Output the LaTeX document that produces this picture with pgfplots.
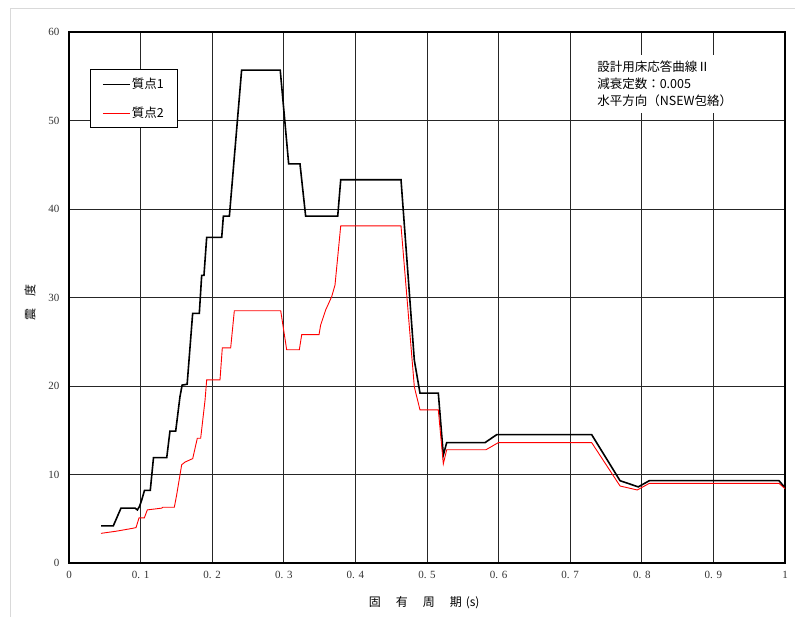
\documentclass[border=0pt]{standalone}
\usepackage{pgfplots}
\pgfplotsset{compat=1.18}
\usepackage{fontspec}
\setmainfont{Liberation Serif}
\newfontfamily\jp{Noto Sans CJK JP}

\pgfplotstableread{
x y
0.0447 4.2
0.0619 4.2
0.0726 6.2
0.0922 6.2
0.0955 6.0
0.0985 6.4
0.1015 7.1
0.1054 8.2
0.1135 8.2
0.1180 11.9
0.1365 11.9
0.1410 14.9
0.1490 14.9
0.1550 18.8
0.1580 20.1
0.1650 20.2
0.1727 28.2
0.1820 28.2
0.1853 32.5
0.1885 32.5
0.1923 36.8
0.2133 36.8
0.2156 39.2
0.2240 39.2
0.2411 55.7
0.2950 55.7
0.3068 45.1
0.3226 45.1
0.3305 39.2
0.3753 39.2
0.3795 43.3
0.4637 43.3
0.4823 22.9
0.4902 19.2
0.5158 19.2
0.5228 12.2
0.5275 13.6
0.5810 13.6
0.5973 14.5
0.7300 14.5
0.7696 9.3
0.7951 8.6
0.8105 9.3
0.9916 9.3
1.0000 8.5
}\massone

\pgfplotstableread{
x y
0.0447 3.35
0.0666 3.6
0.0876 3.9
0.0936 4.0
0.0978 5.1
0.1052 5.1
0.1094 6.0
0.1295 6.2
0.1309 6.3
0.1471 6.3
0.1504 7.7
0.1574 11.1
0.1620 11.4
0.1728 11.8
0.1792 14.1
0.1839 14.1
0.1900 18.4
0.1923 20.7
0.2109 20.7
0.2141 24.3
0.2258 24.3
0.2309 28.5
0.2957 28.5
0.3040 24.1
0.3217 24.1
0.3250 25.8
0.3492 25.8
0.3515 26.9
0.3585 28.6
0.3669 30.1
0.3715 31.4
0.3795 38.1
0.4637 38.1
0.4823 19.9
0.4902 17.3
0.5158 17.3
0.5228 11.2
0.5275 12.8
0.5824 12.8
0.5996 13.6
0.7300 13.6
0.7696 8.7
0.7937 8.25
0.8105 9.0
0.9916 9.0
1.0000 8.4
}\masstwo

\begin{document}
\begin{tikzpicture}
\useasboundingbox (0,0) rectangle (795bp,617bp);
\draw[black!15] (10bp,0) -- (10bp,609bp) -- (795bp,609bp);
\begin{axis}[
  at={(69bp,54bp)}, anchor=south west,
  scale only axis, width=716bp, height=531bp,
  xmin=0, xmax=1, ymin=0, ymax=60,
  xtick={0,0.1,0.2,0.3,0.4,0.5,0.6,0.7,0.8,0.9,1},
  xticklabels={0,0. 1,0. 2,0. 3,0. 4,0. 5,0. 6,0. 7,0. 8,0. 9,1},
  ytick={0,10,20,30,40,50,60},
  yticklabels={0,10,20,30,40,50,60},
  major tick length=0pt,
  tick label style={font=\fontsize{11bp}{12bp}\selectfont, text=black!80},
  xticklabel style={yshift=-5bp},
  yticklabel style={xshift=-6bp},
  grid=major,
  major grid style={black!85, line width=0.9bp},
  axis line style={black, line width=1.4bp},
  xlabel={\jp 固\hspace{15bp}有\hspace{15bp}周\hspace{15bp}期\hspace{4bp}(s)},
  ylabel={\jp 震\hspace{1em}度},
  xlabel style={at={(axis description cs:0.496,-0.075)}, anchor=center, font=\fontsize{12bp}{13bp}\selectfont},
  ylabel style={at={(axis description cs:-0.0545,0.49)}, anchor=center, font=\fontsize{12bp}{13bp}\selectfont},
  legend style={at={(rel axis cs:0.0293,0.930)}, anchor=north west, draw=black, line width=0.8bp,
    fill=white, font=\jp\fontsize{12.5bp}{13bp}\selectfont, row sep=14bp,
    inner xsep=12bp, inner ysep=7bp, nodes={inner sep=1.5bp}},
  legend cell align=left,
  legend image code/.code={\draw[#1, line width=0.9bp] (0bp,0bp) -- (27bp,0bp);},
]
\addplot[black, line width=1.6bp] table {\massone};
\addlegendentry{質点1\hspace{10bp}}
\addplot[red, line width=0.9bp] table {\masstwo};
\addlegendentry{質点2\hspace{10bp}}
\node[fill=white, anchor=north west, align=left, inner xsep=9bp, inner ysep=6bp,
  font=\jp\fontsize{12.5bp}{17bp}\selectfont, text width=154bp]
  at (rel axis cs:0.725,0.957)
  {設計用床応答曲線Ⅱ\\減衰定数：0.005\\水平方向（NSEW包絡）};
\end{axis}
\end{tikzpicture}
\end{document}
